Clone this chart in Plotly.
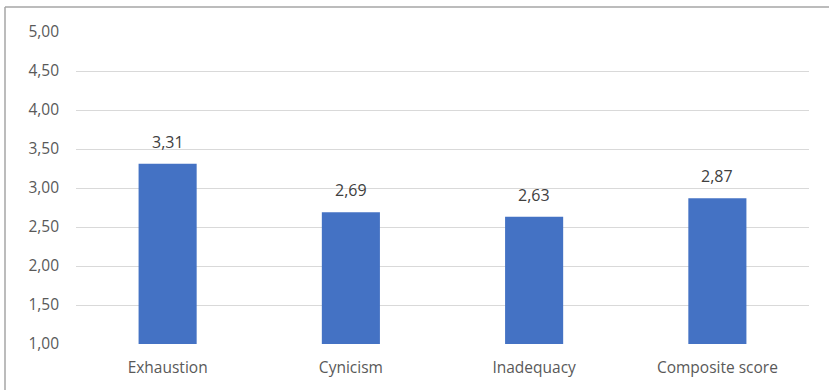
import plotly.graph_objects as go

categories = ["Exhaustion", "Cynicism", "Inadequacy", "Composite score"]
scores = [3.31, 2.69, 2.63, 2.87]
y_ticks = [1.0, 1.5, 2.0, 2.5, 3.0, 3.5, 4.0, 4.5, 5.0]

W, H = 829, 390
ml, mr, mt, mb = 76, 20, 32, 46
pw, ph = W - ml - mr, H - mt - mb

def px_x(x):
    return (x - ml) / pw

def px_y(y):
    return (H - mb - y) / ph

fig = go.Figure(
    go.Bar(
        x=categories,
        y=scores,
        marker=dict(color="#4472C4", line=dict(width=0)),
        width=0.317,
        hoverinfo="x+y",
    )
)

# value labels sitting above each bar
for cat, val in zip(categories, scores):
    fig.add_annotation(
        x=cat, y=val, xref="x", yref="y",
        text=f"{val:.2f}".replace(".", ","),
        showarrow=False,
        yanchor="bottom",
        yshift=9,
        font=dict(size=16, color="#404040"),
    )

grey = "#595959"
fig.update_layout(
    width=W,
    height=H,
    margin=dict(l=ml, r=mr, t=mt, b=mb),
    paper_bgcolor="white",
    plot_bgcolor="white",
    separators=",.",
    font=dict(family="Open Sans, DejaVu Sans, sans-serif", color=grey, size=16),
    showlegend=False,
    xaxis=dict(
        showgrid=False,
        showline=False,
        ticks="",
        ticklabelstandoff=12,
        tickfont=dict(size=15.5, color=grey),
    ),
    yaxis=dict(
        range=[1, 5],
        tickvals=y_ticks,
        tickformat=".2f",
        showgrid=True,
        gridcolor="#d9d9d9",
        gridwidth=1,
        zeroline=False,
        showline=False,
        ticks="",
        ticklabelstandoff=16,
        tickfont=dict(size=15.5, color=grey),
    ),
    shapes=[
        dict(type="line", xref="paper", yref="paper",
             x0=px_x(5), x1=px_x(W), y0=px_y(7), y1=px_y(7),
             line=dict(color="#a6a6a6", width=1.5)),
        dict(type="line", xref="paper", yref="paper",
             x0=px_x(5), x1=px_x(5), y0=px_y(7), y1=px_y(H),
             line=dict(color="#a6a6a6", width=1.5)),
    ],
)

fig.write_html("out.html")
